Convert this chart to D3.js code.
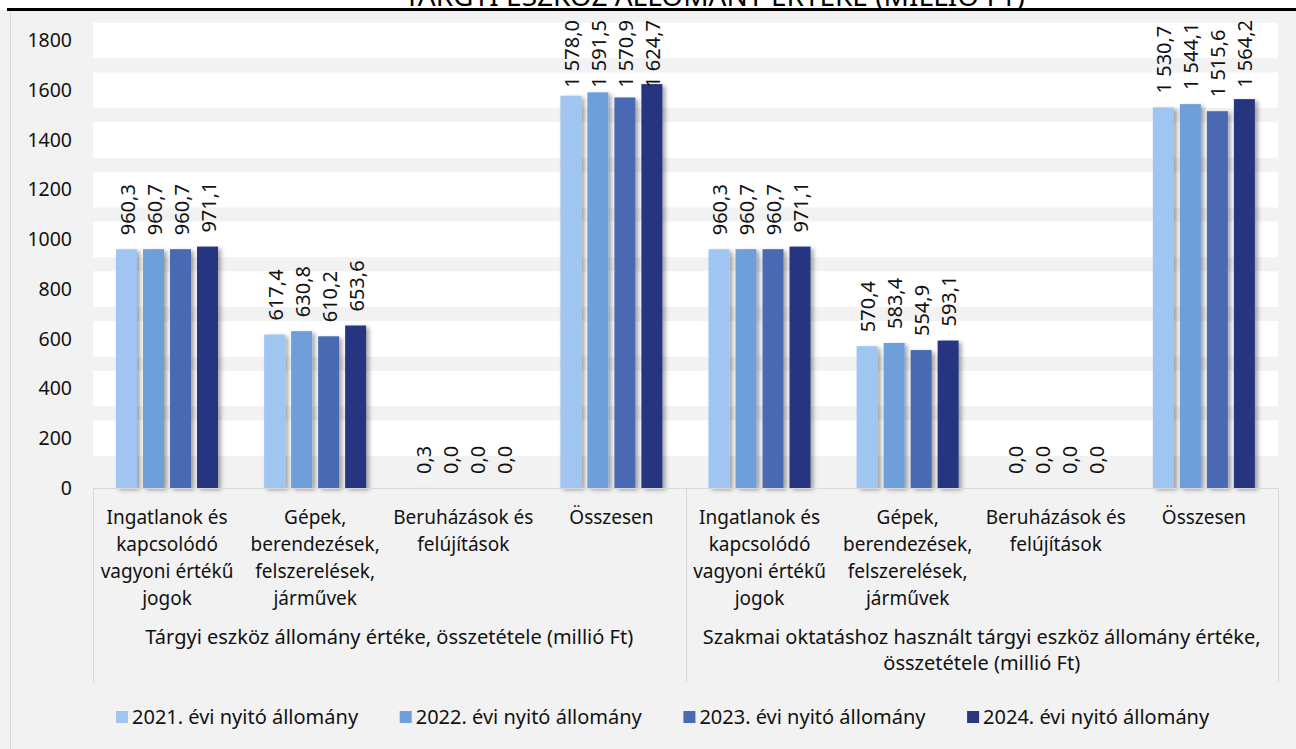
<!DOCTYPE html>
<html>
<head>
<meta charset="utf-8">
<script src="https://cdn.jsdelivr.net/npm/d3@7"></script>
<style>
  body { margin: 0; background: #fff; }
</style>
</head>
<body>
<svg id="chart" width="1296" height="749" font-family="'Noto Sans', sans-serif"></svg>
<script>
// data
var seriesNames = ["2021. évi nyitó állomány", "2022. évi nyitó állomány",
    "2023. évi nyitó állomány", "2024. évi nyitó állomány"];
var seriesColors = ["#A0C5F1", "#6E9FDB", "#4A6BB3", "#283580"];

var categories = [
    ["Ingatlanok és", "kapcsolódó", "vagyoni értékű", "jogok"],
    ["Gépek,", "berendezések,", "felszerelések,", "járművek"],
    ["Beruházások és", "felújítások"],
    ["Összesen"],
    ["Ingatlanok és", "kapcsolódó", "vagyoni értékű", "jogok"],
    ["Gépek,", "berendezések,", "felszerelések,", "járművek"],
    ["Beruházások és", "felújítások"],
    ["Összesen"]
];
var groupNames = [
    ["Tárgyi eszköz állomány értéke, összetétele (millió Ft)"],
    ["Szakmai oktatáshoz használt tárgyi eszköz állomány értéke,", "összetétele (millió Ft)"]
];
var v2021 = [960.3, 617.4, 0.3, 1578.0, 960.3, 570.4, 0.0, 1530.7];
var v2022 = [960.7, 630.8, 0.0, 1591.5, 960.7, 583.4, 0.0, 1544.1];
var v2023 = [960.7, 610.2, 0.0, 1570.9, 960.7, 554.9, 0.0, 1515.6];
var v2024 = [971.1, 653.6, 0.0, 1624.7, 971.1, 593.1, 0.0, 1564.2];
var yTicks = [0, 200, 400, 600, 800, 1000, 1200, 1400, 1600, 1800];

var titleText = "TÁRGYI ESZKÖZ ÁLLOMÁNY ÉRTÉKE (MILLIÓ FT)";

var allValues = [v2021, v2022, v2023, v2024];

var huFormat = d3.formatLocale({ decimal: ",", thousands: " ", grouping: [3], currency: ["", " Ft"] }).format(",.1f");

var svg = d3.select("#chart");

// chart background
svg.append("rect").attr("x", 0).attr("y", 10).attr("width", 1296).attr("height", 739).attr("fill", "#f2f2f2");
svg.append("line").attr("x1", 10.5).attr("x2", 10.5).attr("y1", 10).attr("y2", 749)
    .attr("stroke", "#d9d9d9");

// cut title + rule line on top
svg.append("text")
    .attr("x", 1025).attr("y", 6)
    .attr("text-anchor", "end")
    .attr("fill", "#000")
    .style("font-size", "28px")
    .text(titleText);
svg.append("rect").attr("x", 7).attr("y", 8).attr("width", 1289).attr("height", 3).attr("fill", "#000");

var defs = svg.append("defs");
var f = defs.append("filter").attr("id", "shadow")
    .attr("x", "-30%").attr("y", "-10%").attr("width", "180%").attr("height", "120%");
f.append("feDropShadow").attr("dx", 3).attr("dy", 2).attr("stdDeviation", 2)
    .attr("flood-color", "#000").attr("flood-opacity", 0.35);

var plotLeft = 93, plotRight = 1278, zeroY = 488;

var x0 = d3.scaleBand()
    .domain(d3.range(categories.length))
    .range([plotLeft, plotRight]);

var x1 = d3.scaleBand()
    .domain(d3.range(seriesNames.length))
    .range([23, 125])
    .paddingInner(6 / 27);

var y = d3.scaleLinear().domain([0, 1800]).range([zeroY, 40.5]);

// gridlines (thick white bands)
svg.append("g").selectAll("line")
    .data(yTicks.filter(function (d) { return d > 0; }))
    .enter().append("line")
    .attr("x1", plotLeft).attr("x2", plotRight)
    .attr("y1", function (d) { return y(d); })
    .attr("y2", function (d) { return y(d); })
    .attr("stroke", "#fff").attr("stroke-width", 35.6);

// y axis labels
var yAxis = d3.axisLeft(y).tickValues(yTicks).tickSize(0).tickPadding(0).tickFormat(d3.format("d"));
var yg = svg.append("g").attr("transform", "translate(72,0)").call(yAxis);
yg.attr("font-family", null).attr("font-size", 19.5);
yg.select(".domain").remove();
yg.selectAll("text").attr("fill", "#111");

// bars
var groups = svg.append("g").selectAll("g")
    .data(categories)
    .enter().append("g")
    .attr("transform", function (d, i) { return "translate(" + x0(i) + ",0)"; });

groups.each(function (c, ci) {
    var g = d3.select(this);
    var vals = allValues.map(function (s) { return s[ci]; });
    g.selectAll("rect")
        .data(vals).enter().append("rect")
        .attr("x", function (d, i) { return x1(i); })
        .attr("width", x1.bandwidth())
        .attr("y", function (d) { return y(d); })
        .attr("height", function (d) { return zeroY - y(d); })
        .attr("fill", function (d, i) { return seriesColors[i]; })
        .attr("filter", "url(#shadow)");
    g.selectAll("text.lbl")
        .data(vals).enter().append("text")
        .attr("class", "lbl")
        .attr("dy", "0.35em")
        .attr("fill", "#111")
        .style("font-size", "20px")
        .text(function (d) { return huFormat(d); })
        .attr("transform", function (d, i) {
            // labels that would run off the top are pushed down, like excel does
            var len = this.getComputedTextLength();
            var start = Math.max(y(d) - 14, 20 + len);
            return "translate(" + (x1(i) + x1.bandwidth() / 2 + 1) + "," + start + ") rotate(-90)";
        });
});

// axis line and separators
svg.append("line").attr("x1", plotLeft).attr("x2", plotRight).attr("y1", zeroY + 0.5).attr("y2", zeroY + 0.5)
    .attr("stroke", "#d9d9d9");
[plotLeft, x0(4), plotRight].forEach(function (xx) {
    svg.append("line").attr("x1", Math.round(xx) + 0.5).attr("x2", Math.round(xx) + 0.5)
        .attr("y1", zeroY).attr("y2", 682).attr("stroke", "#d9d9d9");
});

// category labels
categories.forEach(function (lines, i) {
    var t = svg.append("text")
        .attr("text-anchor", "middle")
        .attr("fill", "#111")
        .style("font-size", "19px");
    lines.forEach(function (l, j) {
        t.append("tspan").attr("x", x0(i) + x0.bandwidth() / 2).attr("y", 524 + j * 27).text(l);
    });
});

// group labels
groupNames.forEach(function (lines, i) {
    var cx = (x0(i * 4) + x0(i * 4 + 3) + x0.bandwidth()) / 2;
    var t = svg.append("text").attr("text-anchor", "middle").attr("fill", "#111").style("font-size", "20px");
    lines.forEach(function (l, j) {
        t.append("tspan").attr("x", cx).attr("y", 644 + j * 26).text(l);
    });
});

// legend
var legend = svg.append("g").selectAll("g")
    .data(seriesNames).enter().append("g")
    .attr("transform", function (d, i) { return "translate(" + (116 + i * 283.7) + ",711)"; });
legend.append("rect").attr("width", 12).attr("height", 12)
    .attr("fill", function (d, i) { return seriesColors[i]; });
legend.append("text").attr("x", 16).attr("y", 13)
    .attr("fill", "#111")
    .style("font-size", "20px")
    .text(function (d) { return d; });
</script>
</body>
</html>
